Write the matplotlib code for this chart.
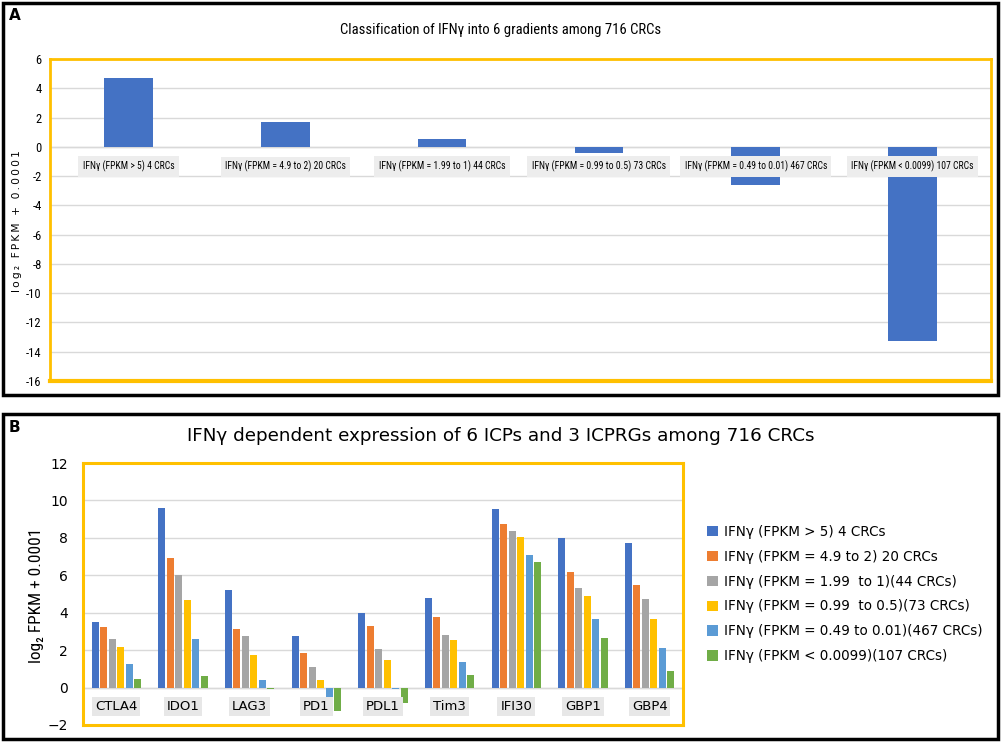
import numpy as np
import matplotlib
matplotlib.use("Agg")
import matplotlib.pyplot as plt
from matplotlib.patches import Rectangle
from matplotlib import font_manager

# panel A data
grad_labels = ["IFNγ (FPKM > 5) 4 CRCs", "IFNγ (FPKM = 4.9 to 2) 20 CRCs",
               "IFNγ (FPKM = 1.99 to 1) 44 CRCs", "IFNγ (FPKM = 0.99 to 0.5) 73 CRCs",
               "IFNγ (FPKM = 0.49 to 0.01) 467 CRCs", "IFNγ (FPKM < 0.0099) 107 CRCs"]
grad_values = [4.73, 1.69, 0.52, -0.45, -2.6, -13.25]

# panel B data
genes = ["CTLA4", "IDO1", "LAG3", "PD1", "PDL1", "Tim3", "IFI30", "GBP1", "GBP4"]
series_names = ["IFNγ (FPKM > 5) 4 CRCs", "IFNγ (FPKM = 4.9 to 2) 20 CRCs",
                "IFNγ (FPKM = 1.99  to 1)(44 CRCs)", "IFNγ (FPKM = 0.99  to 0.5)(73 CRCs)",
                "IFNγ (FPKM = 0.49 to 0.01)(467 CRCs)", "IFNγ (FPKM < 0.0099)(107 CRCs)"]
g1 = [3.51, 9.59, 5.20, 2.73, 3.96, 4.80, 9.55, 7.99, 7.75]
g2 = [3.21, 6.90, 3.14, 1.87, 3.28, 3.76, 8.75, 6.15, 5.49]
g3 = [2.58, 5.99, 2.78, 1.12, 2.07, 2.80, 8.34, 5.33, 4.72]
g4 = [2.16, 4.67, 1.75, 0.41, 1.48, 2.53, 8.02, 4.88, 3.67]
g5 = [1.27, 2.58, 0.42, -0.70, -0.08, 1.34, 7.06, 3.64, 2.12]
g6 = [0.45, 0.64, -0.10, -1.25, -0.80, 0.66, 6.72, 2.64, 0.89]
colors = ["#4472C4", "#ED7D31", "#A5A5A5", "#FFC000", "#5B9BD5", "#70AD47"]

# widths (px) of the texts in the reference, used to size the fonts
grad_label_px = [91, 120, 128, 134, 143, 122]

W, H = 1002, 743
yellow = "#FFC000"
grid_c = "#D9D9D9"

# a narrow face if one is around
have = {f.name for f in font_manager.fontManager.ttflist}
narrow = "DejaVu Sans"
for cand in ["Liberation Sans Narrow", "Roboto Condensed", "Open Sans Condensed", "DejaVu Sans"]:
    if cand in have:
        narrow = cand
        break

fig = plt.figure(figsize=(W / 100, H / 100), dpi=100)
renderer = fig.canvas.get_renderer()


def fit(t, target, vertical=False):
    bb = t.get_window_extent(renderer)
    size = bb.height if vertical else bb.width
    t.set_fontsize(t.get_fontsize() * target / size)


# outer black frames
for (x0, y0, x1, y1) in [(3, 3, 998, 395), (3, 414, 998, 739)]:
    fig.add_artist(Rectangle((x0 / W, 1 - y1 / H), (x1 - x0) / W, (y1 - y0) / H,
                             transform=fig.transFigure, fill=False, ec="black", lw=2.5))

# ---------- panel A ----------
axA = fig.add_axes([50 / W, 1 - 381 / H, 941 / W, 322 / H])
xa = np.arange(len(grad_values))
axA.bar(xa, grad_values, width=0.31, color="#4472C4", zorder=2)
axA.set_xlim(-0.5, len(grad_values) - 0.5)
axA.set_ylim(-16, 6)
axA.set_yticks(np.arange(-16, 7, 2))
axA.set_yticklabels([str(v) for v in range(-16, 7, 2)], family=narrow, fontsize=9)
axA.tick_params(axis="y", length=0, pad=6)
axA.set_xticks([])
axA.grid(axis="y", color=grid_c, lw=1, zorder=0)
axA.axhline(0, color=grid_c, lw=1, zorder=1)
for s in axA.spines.values():
    s.set_color(yellow)
    s.set_linewidth(2)
axA.spines["bottom"].set_linewidth(3)
for i, lab in enumerate(grad_labels):
    t = axA.text(i, -1.35, lab, ha="center", va="center", family=narrow, fontsize=7,
                 bbox=dict(boxstyle="square,pad=0.45", fc="#EDEDED", ec="none"), zorder=4)
    fit(t, grad_label_px[i])
ylA = fig.text(17 / W, 1 - 221 / H, "\u2009".join("log₂ FPKM + 0.0001"), rotation=90,
               ha="center", va="center", fontsize=7.5)
fit(ylA, 142, vertical=True)
tA = fig.text(501 / W, 1 - 30 / H, "Classification of IFNγ into 6 gradients among 716 CRCs",
              ha="center", va="center", family=narrow, fontsize=11)
fit(tA, 318)
fig.text(9 / W, 1 - 16 / H, "A", ha="left", va="center", fontsize=11, weight="bold")

# ---------- panel B ----------
axB = fig.add_axes([83 / W, 1 - 725 / H, 600 / W, 262 / H])
xb = np.arange(len(genes))
slot = 0.127
for k, (vals, c, name) in enumerate(zip([g1, g2, g3, g4, g5, g6], colors, series_names)):
    axB.bar(xb + (k - 2.5) * slot, vals, width=0.105, color=c, label=name, zorder=2)
axB.set_xlim(-0.5, len(genes) - 0.5)
axB.set_ylim(-2, 12)
axB.set_yticks(np.arange(-2, 13, 2))
axB.tick_params(axis="y", length=0, pad=11, labelsize=10)
axB.set_xticks([])
axB.grid(axis="y", color=grid_c, lw=1, zorder=0)
axB.axhline(0, color=grid_c, lw=1, zorder=1)
for s in axB.spines.values():
    s.set_color(yellow)
    s.set_linewidth(2.2)
for i, g in enumerate(genes):
    axB.text(i, -0.99, g, ha="center", va="center", fontsize=9.5,
             bbox=dict(boxstyle="square,pad=0.22", fc="#E7E7E7", ec="none"), zorder=4)
ylB = fig.text(37 / W, 1 - 595 / H, "log₂ FPKM + 0.0001", rotation=90,
               ha="center", va="center", family=narrow, fontsize=12)
fit(ylB, 134, vertical=True)
tB = fig.text(501 / W, 1 - 436 / H, "IFNγ dependent expression of 6 ICPs and 3 ICPRGs among 716 CRCs",
              ha="center", va="center", fontsize=12.5)
fit(tB, 632)
fig.text(9 / W, 1 - 427 / H, "B", ha="left", va="center", fontsize=11, weight="bold")

handles, labels = axB.get_legend_handles_labels()
fig.legend(handles, labels, loc="center left", bbox_to_anchor=(695 / W, 1 - 594 / H),
           frameon=False, fontsize=9.75, handlelength=0.8, handleheight=0.8,
           handletextpad=0.45, labelspacing=0.8)

fig.savefig("out.png", dpi=100)
